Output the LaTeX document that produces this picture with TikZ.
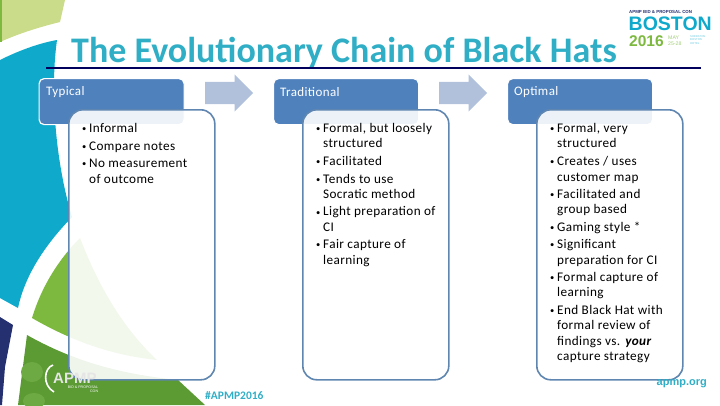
\documentclass[tikz,border=0pt]{standalone}
\usepackage{fontspec}
\setmainfont{Carlito}[LetterSpace=3]
\newfontfamily\titlefont{Carlito}
\newfontfamily\webfont{Liberation Sans}
\usetikzlibrary{shapes.arrows}

\definecolor{headblue}{HTML}{4F81BD}
\definecolor{bodyline}{HTML}{5F86B0}
\definecolor{arrowblue}{HTML}{B1C1DB}
\definecolor{apmpteal}{HTML}{30AEC6}
\definecolor{apmpcyan}{HTML}{0FA9CB}
\definecolor{apmpnavy}{HTML}{24306F}
\definecolor{apmplime}{HTML}{CADB8A}
\definecolor{apmpgreen}{HTML}{7CB93E}
\definecolor{apmpdark}{HTML}{5C9A34}
\definecolor{apmpblob}{HTML}{6DAA44}

\newcommand{\itm}[1]{\hbox to 7pt{\raisebox{0.7pt}{\fontsize{8.5}{9}\selectfont\textbullet}\hfil}#1}
\newcommand{\cnt}[1]{\hspace*{7pt}#1}

\tikzset{
    headbox/.style={draw=white,line width=1.2pt,fill=headblue,rounded corners=5pt,minimum width=145pt,minimum height=46pt,anchor=north west,inner sep=0pt},
    headtext/.style={text=white,anchor=west,inner sep=0pt,font=\fontsize{13}{15}\selectfont},
    bodybox/.style={draw=bodyline,line width=1.6pt,fill=white,fill opacity=0.9,rounded corners=14pt,minimum width=146pt,minimum height=270pt,anchor=north west,inner sep=0pt},
    bodytext/.style={anchor=north west,align=left,inner sep=0pt,font=\fontsize{13.2}{15.4}\selectfont},
    flowarrow/.style={shape=single arrow,fill=arrowblue,inner sep=0pt,text height=22pt,text depth=0pt,minimum width=37pt,minimum height=48pt,single arrow head extend=7.5pt,anchor=west},
}

\begin{document}
\begin{tikzpicture}[x=1pt,y=-1pt]
    \useasboundingbox (0,0) rectangle (720,405);

    % background shapes
    \fill[apmplime] (0,0) -- (65,0) -- (60,22) .. controls (40,27) and (20,33) .. (0,42) -- cycle;
    \fill[apmpgreen] (0,0) rectangle (1.5,42);
    \fill[apmpcyan] (0,60) .. controls (20,50) and (40,43) .. (57,40) .. controls (50,90) and (55,160) .. (72,217) .. controls (45,245) and (25,275) .. (18,308) -- (0,298) -- cycle;
    \fill[apmpnavy] (0,317) -- (13,325) -- (5,367) -- (2,405) -- (0,405) -- cycle;
    \fill[apmpgreen] (32,318) .. controls (42,285) and (60,258) .. (80,238) .. controls (100,290) and (125,330) .. (157,360) .. controls (110,355) and (70,340) .. (32,318) -- cycle;
    \fill[apmpdark] (27,335) .. controls (80,365) and (130,375) .. (178,380) -- (205,405) -- (18,405) -- cycle;
    \fill[apmpblob] (32,372) ellipse (11 and 10);
    \fill[apmpblob] (34,401) ellipse (11 and 8);

    % title
    \node[text=apmpteal,anchor=base west,inner sep=0pt,font=\titlefont\bfseries\fontsize{36}{36}\selectfont] (title) at (71,62) {The Evolutionary Chain of Black Hats};
    \fill[black!20!blue!45!black] (46,66.8) rectangle (701,68.6);

    % boston logo
    \node[text=apmpnavy,anchor=west,inner sep=0pt,font=\webfont\bfseries\fontsize{4.4}{5}\selectfont] (confname) at (629,11.5) {APMP BID \& PROPOSAL CON};
    \node[text=apmpcyan,anchor=west,inner sep=0pt,font=\webfont\bfseries\fontsize{19.5}{19.5}\selectfont] (boston) at (628.5,24) {BOSTON};
    \node[text=apmpgreen,anchor=west,inner sep=0pt,font=\webfont\bfseries\fontsize{15.5}{15.5}\selectfont] (year) at (629,41) {2016};
    \node[text=apmpgreen!70!white,anchor=west,align=left,inner sep=0pt,font=\webfont\fontsize{5.2}{6}\selectfont] (dates) at (668,41) {MAY\\25-28};
    \node[text=apmpcyan!60!white,anchor=west,align=left,inner sep=0pt,font=\webfont\fontsize{2.8}{3.6}\selectfont] (hotel) at (690,40) {SHERATON\\BOSTON\\HOTEL};

    % headers and arrows
    \node[headbox] (typical) at (38.5,78) {};
    \node[headtext] (typicaltext) at (46,92) {Typical};
    \node[headbox] (traditional) at (273,78) {};
    \node[headtext] (traditionaltext) at (280,92) {Traditional};
    \node[headbox] (optimal) at (507,78) {};
    \node[headtext] (optimaltext) at (514,92) {Optimal};

    \node[flowarrow] (arrowone) at (205,93) {};
    \node[flowarrow] (arrowtwo) at (439,93) {};

    % bodies
    \node[bodybox] (typicalbody) at (68,109) {};
    \node[bodybox] (traditionalbody) at (302,109) {};
    \node[bodybox] (optimalbody) at (536,109) {};

    \node[bodytext] (typicallist) at (82,123) {\itm{Informal}\\[2.5pt]\itm{Compare notes}\\[2pt]\itm{No measurement}\\\cnt{of outcome}};
    \node[bodytext] (traditionallist) at (316,123) {\itm{Formal, but loosely}\\\cnt{structured}\\[2.5pt]\itm{Facilitated}\\[2pt]\itm{Tends to use}\\\cnt{Socratic method}\\[2pt]\itm{Light preparation of}\\\cnt{CI}\\[2pt]\itm{Fair capture of}\\\cnt{learning}};
    \node[bodytext] (optimallist) at (550,123) {\itm{Formal, very}\\\cnt{structured}\\[2.5pt]\itm{Creates / uses}\\\cnt{customer map}\\[2pt]\itm{Facilitated and}\\\cnt{group based}\\[2pt]\itm{Gaming style *}\\[2pt]\itm{Significant}\\\cnt{preparation for CI}\\[2pt]\itm{Formal capture of}\\\cnt{learning}\\[2pt]\itm{End Black Hat with}\\\cnt{formal review of}\\\cnt{findings vs. \textbf{\textit{your}}}\\\cnt{capture strategy}};

    % apmp logo
    \draw[white,line width=1.6pt] (53,365) .. controls (44,368) and (42,385) .. (54,392);
    \node[text=white!90!black,anchor=west,inner sep=0pt,font=\webfont\bfseries\fontsize{15}{15}\selectfont] (apmplogo) at (53,378.5) {APMP};
    \node[text=white,inner sep=0pt,align=right,font=\webfont\fontsize{3.6}{4}\selectfont] (apmpsub) at (83,389.5) {BID \& PROPOSAL\\CON};

    % footer
    \node[text=apmpteal,anchor=west,inner sep=0pt,font=\titlefont\bfseries\fontsize{11.5}{12}\selectfont] (hashtag) at (205,396) {\#APMP2016};
    \node[text=apmpteal,anchor=east,inner sep=0pt,font=\webfont\bfseries\fontsize{11}{12}\selectfont] (website) at (707,384) {apmp.org};
\end{tikzpicture}
\end{document}
